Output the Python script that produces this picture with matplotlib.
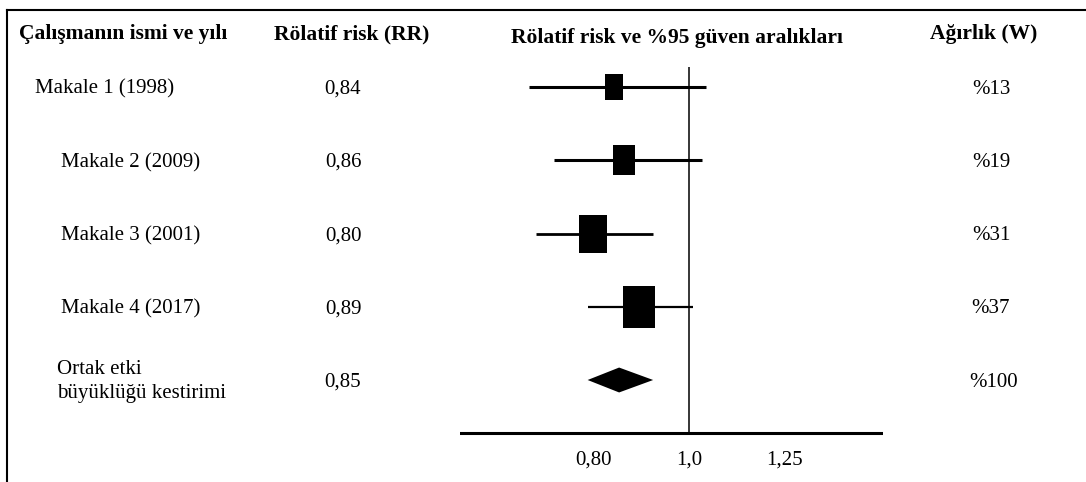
import numpy as np
import matplotlib
matplotlib.use("Agg")
import matplotlib.pyplot as plt
from matplotlib.lines import Line2D

# study rows of the forest plot
studies = ["Makale 1 (1998)", "Makale 2 (2009)", "Makale 3 (2001)", "Makale 4 (2017)"]
rr = [0.84, 0.86, 0.80, 0.89]
ci_low = [0.69, 0.73, 0.70, 0.79]
ci_high = [1.04, 1.03, 0.92, 1.01]
weights = [13, 19, 31, 37]

# pooled estimate
pooled_label = "Ortak etki\nbüyüklüğü kestirimi"
pooled_rr = 0.85
pooled_low = 0.79
pooled_high = 0.92
pooled_weight = 100

headers = ["Çalışmanın ismi ve yılı", "Rölatif risk (RR)",
           "Rölatif risk ve %95 güven aralıkları", "Ağırlık (W)"]
tick_vals = [0.80, 1.0, 1.25]
tick_labels = ["0,80", "1,0", "1,25"]


def fmt_rr(v):
    return f"{v:.2f}".replace(".", ",")


W, H = 1086, 482
plt.rcParams["font.family"] = ["Liberation Serif", "DejaVu Serif"]
plt.rcParams["font.size"] = 15

fig = plt.figure(figsize=(W / 100, H / 100), dpi=100)

# rows are spaced evenly; row 0 sits 87 px from the top, 73.25 px per row
row_h = 73.25
ylim = ((H - 87) / row_h, -87 / row_h)

# text columns on a full-size axes (x in pixels, y in row units)
tbl = fig.add_axes([0, 0, 1, 1])
tbl.set_xlim(0, W)
tbl.set_ylim(*ylim)
tbl.axis("off")

# forest panel with a log scale
x0, x1 = 460, 883
ax = fig.add_axes([x0 / W, 0, (x1 - x0) / W, 1])
ax.set_xscale("log")
ax.set_xlim(np.exp((x0 - 689) / 430), np.exp((x1 - 689) / 430))
ax.set_ylim(*ylim)
ax.axis("off")

# headers
tbl.text(19, -0.72, headers[0], fontweight="bold", ha="left", va="center",
         fontsize=15.5)
tbl.text(352, -0.72, headers[1], fontweight="bold", ha="center", va="center",
         fontsize=15.5)
tbl.text(677, -0.67, headers[2], fontweight="bold", ha="center", va="center",
         fontsize=15.5)
tbl.text(984, -0.72, headers[3], fontweight="bold", ha="center", va="center",
         fontsize=15.5)

# square marker, a bit taller than wide
box = [(-0.37, -0.5), (0.37, -0.5), (0.37, 0.5), (-0.37, 0.5), (-0.37, -0.5)]
ci_lw = [2.2, 2.2, 2.0, 1.6]

label_x = [35, 61, 61, 61]
for i, name in enumerate(studies):
    tbl.text(label_x[i], i + 0.03, name, ha="left", va="center")
    tbl.text(343, i + 0.03, fmt_rr(rr[i]), ha="center", va="center")
    tbl.text(991, i + 0.03, f"%{weights[i]}", ha="center", va="center")

    ax.plot([ci_low[i], ci_high[i]], [i, i], color="black", lw=ci_lw[i],
            solid_capstyle="butt", zorder=2)
    # box height grows with the study weight
    box_px = 15.8 + 0.71 * weights[i]
    ax.plot(rr[i], i, marker=box, markersize=box_px * 0.72, color="black",
            markeredgewidth=0, zorder=3)

# pooled row
k = len(studies)
tbl.text(57, k + 0.02, pooled_label, ha="left", va="center", linespacing=1.3)
tbl.text(343, k + 0.03, fmt_rr(pooled_rr), ha="center", va="center")
tbl.text(994, k + 0.03, f"%{pooled_weight}", ha="center", va="center")
dh = 0.17
ax.fill([pooled_low, pooled_rr, pooled_high, pooled_rr],
        [k, k - dh, k, k + dh], color="black", lw=0, zorder=3)

# line of no effect and the horizontal axis
axis_y = (433 - 87) / row_h
ax.vlines(1.0, -0.27, axis_y, color="black", lw=1.1, zorder=1)
ax.axhline(axis_y, color="black", lw=2.2)
for v, lab in zip(tick_vals, tick_labels):
    ax.text(v, (460 - 87) / row_h, lab, ha="center", va="center")

# frame on the top and left edges
fig.add_artist(Line2D([7 / W, 1], [1 - 10 / H, 1 - 10 / H], color="black",
                      lw=1.5, transform=fig.transFigure))
fig.add_artist(Line2D([7 / W, 7 / W], [0, 1 - 10 / H], color="black",
                      lw=1.5, transform=fig.transFigure))

fig.savefig("out.png", dpi=100, facecolor="white")
